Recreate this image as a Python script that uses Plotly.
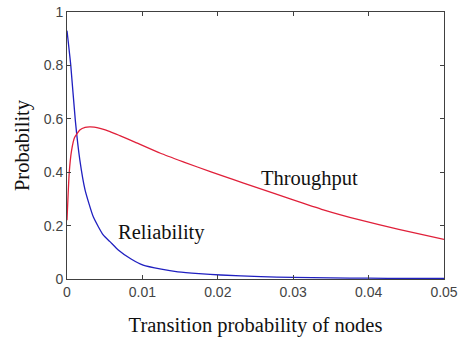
import plotly.graph_objects as go

# Transition probability of nodes (x) and the two curves read along it
thr_x = [0, 0.0003, 0.0006, 0.001, 0.0017, 0.0024, 0.003, 0.0036, 0.0045, 0.0057,
         0.007, 0.009, 0.0124, 0.0155, 0.0191, 0.022, 0.0248, 0.0297, 0.034,
         0.0387, 0.044, 0.05]
thr_y = [0.22, 0.40, 0.48, 0.53, 0.558, 0.568, 0.57, 0.569, 0.563, 0.552,
         0.537, 0.513, 0.471, 0.438, 0.401, 0.373, 0.346, 0.299, 0.259,
         0.222, 0.186, 0.148]

rel_x = [0, 0.0005, 0.0011, 0.0017, 0.0024, 0.0035, 0.0048, 0.0057, 0.0068,
         0.0085, 0.0101, 0.0125, 0.0147, 0.0175, 0.0204, 0.0257, 0.03, 0.035,
         0.04, 0.045, 0.05]
rel_y = [0.93, 0.80, 0.595, 0.446, 0.333, 0.232, 0.165, 0.14, 0.109,
         0.075, 0.052, 0.037, 0.027, 0.02, 0.015, 0.009, 0.006, 0.004,
         0.003, 0.002, 0.002]

x_ticks = [0, 0.01, 0.02, 0.03, 0.04, 0.05]
x_tick_text = ["0", "0.01", "0.02", "0.03", "0.04", "0.05"]
y_ticks = [0, 0.2, 0.4, 0.6, 0.8, 1]
y_tick_text = ["0", "0.2", "0.4", "0.6", "0.8", "1"]

curve_labels = [("Throughput", 0.0322, 0.378), ("Reliability", 0.0125, 0.176)]

serif = dict(family="Liberation Serif", size=20.5, color="#111")

fig = go.Figure()
fig.add_trace(go.Scatter(x=rel_x, y=rel_y, mode="lines",
                         line=dict(color="#2020c0", width=1.3, shape="spline", smoothing=0.5)))
fig.add_trace(go.Scatter(x=thr_x, y=thr_y, mode="lines",
                         line=dict(color="#e0203a", width=1.3, shape="spline", smoothing=0.5)))

for text, tx, ty in curve_labels:
    fig.add_annotation(x=tx, y=ty, text=text, showarrow=False, font=serif)

axis_common = dict(showline=True, linecolor="#404040", linewidth=1, mirror="ticks",
                   ticks="inside", ticklen=4, tickcolor="#404040", showgrid=False,
                   zeroline=False, automargin=False,
                   tickfont=dict(family="Liberation Sans", size=14, color="#444"))

fig.update_xaxes(range=[0, 0.05], tickvals=x_ticks, ticktext=x_tick_text,
                 title=dict(text="Transition probability of nodes", standoff=18, font=serif),
                 **axis_common)
fig.update_yaxes(range=[0, 1], tickvals=y_ticks, ticktext=y_tick_text,
                 title=dict(text="Probability", standoff=8, font=serif),
                 **axis_common)

fig.update_layout(width=459, height=339, margin=dict(l=67, r=15, t=12, b=60),
                  paper_bgcolor="white", plot_bgcolor="white", showlegend=False)

fig.write_html("out.html")
